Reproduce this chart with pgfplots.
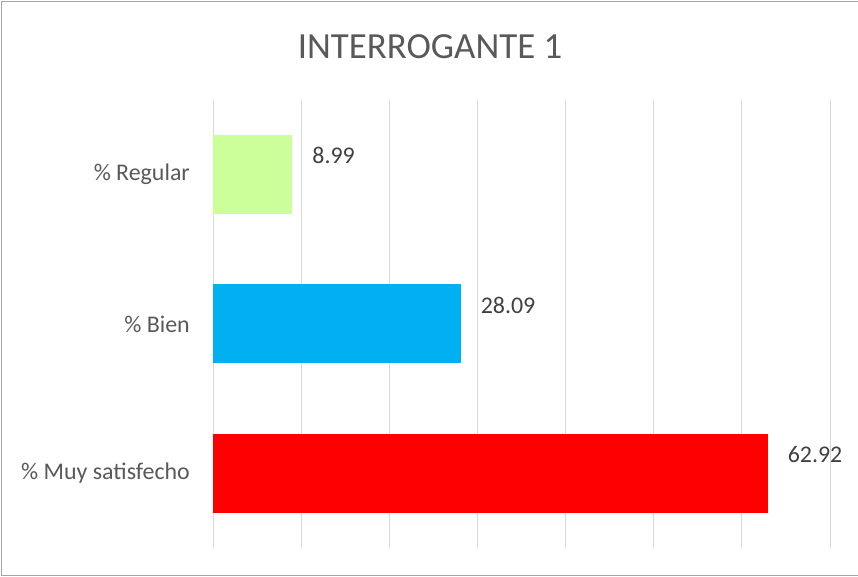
\documentclass[border=0pt]{standalone}
\usepackage{pgfplots}
\pgfplotsset{compat=1.18}
\usepackage{fontspec}
\setmainfont{Carlito}
\definecolor{txt}{HTML}{595959}
\definecolor{lbl}{HTML}{404040}
\definecolor{gridc}{HTML}{D9D9D9}
\definecolor{framec}{HTML}{A6A6A6}
\definecolor{cregular}{HTML}{CCFF99}
\definecolor{cbien}{HTML}{00B0F0}
\definecolor{cmuy}{HTML}{FF0000}
\begin{document}
\begin{tikzpicture}[x=1bp,y=1bp]
\useasboundingbox (0,0) rectangle (858,577);
\draw[color=framec, line width=1.5bp] (1.5,1.5) rectangle (862,575.5);
\node[font=\fontsize{37}{44}\selectfont, text=txt] at (430,530) {INTERROGANTE 1};
\begin{axis}[
  at={(213bp,29bp)}, anchor=south west,
  scale only axis, width=617bp, height=448bp,
  xbar, bar width=79bp, bar shift=0pt,
  xmin=0, xmax=70, ymin=-0.5, ymax=2.5,
  xtick={0,10,...,70}, xticklabels={},
  xmajorgrids, grid style={color=gridc, line width=1bp},
  axis line style={draw=none},
  major tick length=0,
  ytick={0,1,2},
  yticklabels={\% Muy satisfecho, \% Bien, \% Regular},
  yticklabel style={font=\fontsize{24}{29}\selectfont, text=txt, inner sep=0pt, xshift=-23bp},
  /pgf/number format/assume math mode=true,
  /pgf/number format/.cd, fixed, precision=2, fixed zerofill, /pgfplots/.cd,
  nodes near coords,
  every node near coord/.append style={font=\fontsize{24}{29}\selectfont, text=lbl, anchor=west, inner sep=0pt, xshift=20bp, yshift=19bp},
]
\addplot[fill=cmuy, draw=none] coordinates {(62.92,0)};
\addplot[fill=cbien, draw=none] coordinates {(28.09,1)};
\addplot[fill=cregular, draw=none] coordinates {(8.99,2)};
\end{axis}
\end{tikzpicture}
\end{document}
